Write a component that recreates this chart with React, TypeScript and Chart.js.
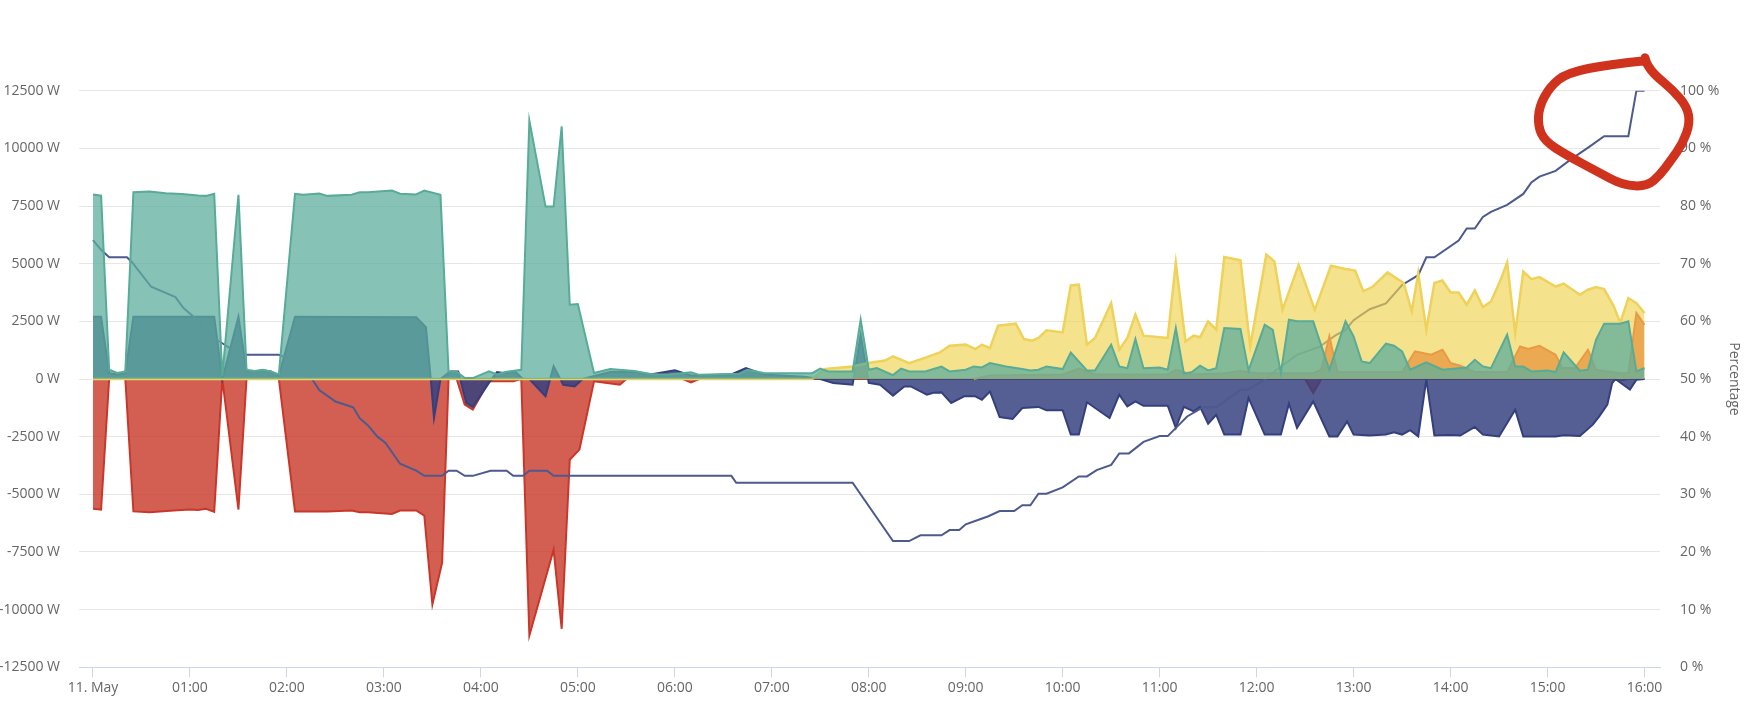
import React, { useEffect, useRef } from "react";
import { Chart, registerables } from "chart.js";

Chart.register(...registerables);

// ---------- data (time in minutes after 11. May 00:00, power in W) ----------
const GREEN_T = [0, 5, 10, 15, 20, 25, 35, 45, 55, 65, 70, 75, 80, 90, 95, 100, 105, 110, 115, 125, 130, 140, 145, 160, 165, 170, 185, 190, 200, 205, 215, 220, 225, 230, 235, 245, 250, 255, 265, 270, 280, 285, 290, 295, 300, 310, 320, 335, 345, 355, 370, 375, 400, 405, 415, 445, 450, 455, 470, 475, 480, 485, 495, 500, 505, 515, 525, 530, 540, 545, 550, 555, 565, 575, 580, 585, 590, 600, 605, 615, 620, 630, 635, 640, 645, 650, 660, 665, 670, 675, 680, 685, 690, 695, 700, 710, 715, 725, 730, 735, 740, 745, 755, 765, 775, 780, 785, 790, 800, 805, 810, 815, 825, 835, 850, 855, 860, 865, 875, 880, 885, 890, 900, 905, 910, 920, 925, 930, 935, 945, 950, 955, 960];
const GREEN_W = [8000, 7950, 400, 260, 330, 8100, 8130, 8050, 8020, 7960, 7940, 8030, 110, 7990, 400, 350, 400, 330, 200, 8030, 7990, 8040, 7940, 7990, 8100, 8100, 8170, 8030, 8000, 8170, 7990, 330, 330, 40, 40, 330, 200, 300, 400, 11200, 7480, 7480, 10950, 3220, 3250, 260, 430, 350, 215, 180, 290, 180, 230, 400, 260, 250, 450, 330, 330, 2570, 400, 475, 170, 450, 330, 330, 540, 330, 400, 545, 500, 690, 545, 430, 370, 400, 545, 430, 1150, 370, 370, 1485, 545, 470, 1730, 470, 500, 400, 2210, 230, 300, 575, 370, 470, 2210, 2170, 375, 2350, 2135, 260, 2570, 2500, 2500, 400, 2500, 1850, 760, 690, 1530, 1440, 1200, 400, 720, 400, 500, 836, 545, 470, 1920, 545, 545, 330, 370, 300, 1155, 360, 400, 1700, 2400, 2400, 2500, 330, 475];

const BLUE_T = [0, 5, 10, 15, 20, 25, 75, 80, 90, 95, 100, 105, 110, 115, 125, 200, 206, 209, 211, 215, 221, 226, 231, 235, 245, 250, 255, 261, 266, 270, 280, 285, 291, 298, 303, 320, 335, 345, 360, 370, 395, 404, 415, 440, 450, 458, 470, 475, 480, 487, 495, 502, 506, 516, 520, 525, 531, 539, 546, 550, 555, 561, 569, 575, 585, 590, 600, 605, 610, 615, 629, 635, 640, 645, 650, 665, 670, 675, 681, 685, 690, 695, 700, 710, 715, 725, 735, 740, 745, 755, 765, 770, 776, 780, 790, 800, 805, 810, 815, 820, 825, 830, 840, 846, 855, 860, 870, 880, 885, 905, 910, 920, 928, 932, 937, 940, 942, 951, 955, 960];
const BLUE_W = [2700, 2700, 250, 200, 250, 2700, 2700, 0, 2700, 350, 330, 380, 330, 150, 2700, 2680, 2250, 0, -1690, 0, 330, 330, -1040, -1210, -170, 300, 250, 330, 0, 0, -750, 550, -250, -320, 0, 300, 300, 200, 380, 150, 200, 475, 200, 100, 0, -170, -250, 1900, -170, -250, -720, -320, -320, -680, -600, -580, -1040, -750, -750, -900, -540, -1650, -1730, -1260, -1210, -1360, -1360, -2410, -2410, -1010, -1690, -680, -1190, -970, -1160, -1160, -2120, -1210, -1400, -1210, -1940, -1550, -2410, -2410, -820, -2410, -2410, -1070, -2120, -970, -2490, -2490, -1840, -2410, -2450, -2410, -2310, -2410, -2220, -2490, 0, -2450, -2430, -2450, -2080, -2410, -2490, -1330, -2490, -2490, -2440, -2470, -1980, -1620, -1110, -175, 0, -460, -30, 0];

const RED_T = [0, 5, 10, 20, 25, 35, 50, 60, 65, 70, 75, 80, 90, 95, 115, 125, 135, 145, 160, 165, 170, 185, 190, 200, 205, 210, 216, 220, 225, 230, 235, 245, 260, 265, 270, 285, 290, 295, 301, 310, 318, 326, 330, 365, 370, 375, 750, 755, 760, 940, 945, 950, 960];
const RED_W = [-5630, -5660, 0, 0, -5740, -5780, -5700, -5660, -5680, -5630, -5760, 0, -5660, 0, 0, -5740, -5740, -5740, -5700, -5780, -5780, -5850, -5700, -5700, -5920, -9780, -7970, 0, 0, -1110, -1330, -100, -100, 0, -11120, -7400, -10830, -3500, -3060, -100, -170, -250, 0, 0, -150, 0, 0, -610, 0, 0, -60, 0, 0];

const YELLOW_T = [0, 445, 453, 470, 480, 490, 495, 505, 516, 524, 530, 540, 546, 550, 555, 560, 571, 576, 581, 585, 590, 600, 605, 610, 615, 620, 630, 635, 640, 645, 650, 665, 670, 676, 681, 685, 690, 695, 700, 710, 716, 726, 731, 736, 746, 756, 766, 775, 781, 786, 792, 801, 811, 816, 820, 825, 830, 835, 840, 845, 850, 855, 860, 865, 871, 875, 880, 885, 890, 895, 905, 910, 920, 925, 930, 935, 941, 945, 950, 955, 960];
const YELLOW_W = [0, 0, 430, 545, 690, 800, 980, 690, 950, 1150, 1440, 1490, 1300, 1490, 1340, 2310, 2400, 1730, 1660, 1780, 2110, 2020, 4060, 4090, 1490, 1780, 3290, 1270, 1780, 2790, 1880, 1780, 5030, 1630, 1880, 1810, 2500, 2140, 5290, 5150, 1410, 5390, 5100, 3000, 4950, 3000, 4910, 4770, 4700, 3800, 4010, 4620, 4160, 2930, 4590, 2140, 4160, 4270, 3750, 3750, 3220, 3840, 3120, 3360, 4300, 5050, 1990, 4660, 4330, 4420, 4010, 4130, 3650, 3870, 3990, 3900, 3150, 2430, 3510, 3290, 2860];

const ORANGE_T = [545, 555, 600, 610, 620, 665, 670, 680, 700, 710, 720, 755, 760, 765, 770, 810, 818, 828, 835, 840, 846, 855, 875, 883, 888, 895, 905, 909, 917, 925, 930, 945, 950, 955, 960];
const ORANGE_W = [0, 150, 200, 450, 200, 200, 400, 200, 250, 350, 250, 250, 400, 1850, 300, 300, 1200, 1050, 1270, 690, 575, 300, 300, 1410, 1300, 1440, 1050, 475, 475, 1270, 400, 250, 260, 2860, 2350];

const PCT_T = [0, 5, 10, 21, 24, 36, 51, 56, 66, 70, 80, 91, 96, 115, 125, 136, 140, 150, 161, 165, 170, 176, 181, 190, 200, 205, 216, 220, 225, 230, 235, 246, 256, 260, 266, 270, 281, 285, 395, 398, 470, 495, 505, 512, 525, 530, 536, 540, 548, 554, 561, 570, 575, 580, 585, 590, 600, 610, 615, 621, 630, 635, 641, 650, 660, 665, 677, 687, 695, 710, 715, 725, 731, 745, 759, 769, 775, 780, 790, 800, 810, 820, 825, 830, 845, 850, 855, 860, 865, 875, 885, 890, 895, 905, 914, 926, 935, 950, 955, 960];
const PCT_V = [74.1, 72.4, 71.1, 71.1, 70.3, 66, 64.2, 62.3, 59.9, 58, 56.2, 54.2, 54.2, 54.2, 53, 49.8, 48.1, 46.1, 45.1, 43.2, 42, 40, 38.9, 35.3, 34.1, 33.2, 33.2, 34.1, 34.1, 33.2, 33.2, 34.1, 34.1, 33.2, 33.2, 34.1, 34.1, 33.2, 33.2, 32.0, 32.0, 21.9, 21.9, 22.9, 22.9, 23.8, 23.8, 24.8, 25.6, 26.2, 27.1, 27.1, 28.1, 28.1, 30.1, 30.1, 31.2, 33.1, 33.1, 34.2, 35.1, 37.1, 37.1, 39.1, 40.1, 40.1, 43.5, 45.1, 45.1, 48.1, 48.2, 49.9, 51.3, 54.2, 55.6, 57.6, 58.5, 60.2, 62.1, 63.1, 66.3, 68.0, 71.1, 71.1, 74.0, 76.1, 76.1, 78.1, 79.0, 80.2, 82.1, 84.1, 85.1, 86.1, 88.0, 90.3, 92.1, 92.1, 100, 100];

// axis ticks
const HOUR_TICKS = [0, 1, 2, 3, 4, 5, 6, 7, 8, 9, 10, 11, 12, 13, 14, 15, 16];
const FIRST_TICK_LABEL = "11. May";

// hand-drawn red annotation loop (hour, percent on the right axis)
const LOOP_H = [16.005, 15.644, 15.2, 15.025, 14.912, 14.902, 14.974, 15.2, 15.51, 15.778, 16.026, 16.16, 16.263, 16.397, 16.469, 16.438, 16.294, 16.108, 16.026, 16.005];
const LOOP_P = [105.2, 104.6, 103.1, 100.7, 97.2, 93.8, 91.2, 88.8, 86.0, 83.6, 83.4, 85.4, 87.7, 90.9, 94.4, 97.2, 100.1, 102.7, 104.5, 105.7];

const pts = (t: number[], v: number[]) => t.map((m, i) => ({ x: m / 60, y: v[i] }));

const loopPlugin = {
  id: "redLoop",
  afterDraw(chart: any) {
    const xs = chart.scales.x;
    const ys = chart.scales.y1;
    const p = LOOP_H.map((h, i) => [xs.getPixelForValue(h), ys.getPixelForValue(LOOP_P[i])]);
    const ctx = chart.ctx;
    ctx.save();
    ctx.strokeStyle = "#cf331e";
    ctx.lineWidth = 9;
    ctx.lineCap = "round";
    ctx.lineJoin = "round";
    ctx.beginPath();
    ctx.moveTo(p[0][0], p[0][1]);
    for (let i = 1; i < p.length - 1; i++) {
      const mx = (p[i][0] + p[i + 1][0]) / 2;
      const my = (p[i][1] + p[i + 1][1]) / 2;
      ctx.quadraticCurveTo(p[i][0], p[i][1], mx, my);
    }
    ctx.lineTo(p[p.length - 1][0], p[p.length - 1][1]);
    ctx.stroke();
    ctx.restore();
  },
};

export default function App() {
  const ref = useRef<HTMLCanvasElement | null>(null);

  useEffect(() => {
    if (!ref.current) return;
    const pad2 = (n: number) => (n < 10 ? "0" + n : "" + n);
    const area = (label: string, t: number[], v: number[], stroke: string, fillCol: string, bw = 2) => ({
      label,
      data: pts(t, v),
      borderColor: stroke,
      backgroundColor: fillCol,
      borderWidth: bw,
      fill: "origin",
      pointRadius: 0,
      tension: 0,
      yAxisID: "y",
    });

    const chart = new Chart(ref.current, {
      type: "line",
      data: {
        datasets: [
          area("Green", GREEN_T, GREEN_W, "#58ab96", "rgba(94,175,158,0.75)"),
          area("Orange", ORANGE_T, ORANGE_W, "#e89a45", "rgba(232,152,62,0.75)"),
          area("Yellow", YELLOW_T, YELLOW_W, "#efd25a", "rgba(240,210,80,0.65)", 2.5),
          {
            label: "Percentage",
            data: pts(PCT_T, PCT_V),
            borderColor: "#4c5a8e",
            backgroundColor: "#4c5a8e",
            borderWidth: 2,
            fill: false,
            pointRadius: 0,
            tension: 0,
            yAxisID: "y1",
          },
          area("Blue", BLUE_T, BLUE_W, "#343f7e", "rgba(52,64,128,0.84)"),
          area("Red", RED_T, RED_W, "#c9372a", "rgba(200,55,40,0.8)"),
        ],
      },
      options: {
        animation: false,
        responsive: true,
        maintainAspectRatio: false,
        layout: { padding: { top: 90.7, left: 0, right: 0, bottom: 0 } },
        plugins: { legend: { display: false }, tooltip: { enabled: false } },
        scales: {
          x: {
            type: "linear",
            min: -14 / 96.97,
            max: 16 + 15.5 / 96.97,
            afterBuildTicks: (s: any) => {
              s.ticks = HOUR_TICKS.map((v) => ({ value: v }));
            },
            afterFit: (s: any) => {
              s.height = 34.7;
            },
            ticks: {
              autoSkip: false,
              maxRotation: 0,
              padding: 2,
              color: "#666666",
              font: { family: "'Open Sans'", size: 14 },
              callback: (v: any) => (v === 0 ? FIRST_TICK_LABEL : pad2(v) + ":00"),
            },
            grid: { drawOnChartArea: false, drawTicks: true, tickLength: 10, color: "#ccd6eb" },
            border: { display: true, color: "#ccd6eb", width: 1 },
          },
          y: {
            position: "left",
            min: -12500,
            max: 12500,
            afterBuildTicks: (s: any) => {
              const t = [];
              for (let v = -12500; v <= 12500; v += 2500) t.push({ value: v });
              s.ticks = t;
            },
            afterFit: (s: any) => {
              s.width = 79;
            },
            ticks: {
              padding: 19,
              color: "#666666",
              font: { family: "'Open Sans'", size: 14 },
              callback: (v: any) => v + " W",
            },
            grid: { color: "#e6e6e6", lineWidth: 1, drawTicks: false },
            border: { display: false },
          },
          y1: {
            position: "right",
            min: 0,
            max: 100,
            afterBuildTicks: (s: any) => {
              const t = [];
              for (let v = 0; v <= 100; v += 10) t.push({ value: v });
              s.ticks = t;
            },
            afterFit: (s: any) => {
              s.width = 87;
            },
            ticks: {
              padding: 20,
              color: "#666666",
              font: { family: "'Open Sans'", size: 14 },
              callback: (v: any) => v + " %",
            },
            grid: { drawOnChartArea: false, drawTicks: false },
            border: { display: false },
            title: {
              display: true,
              text: "Percentage",
              color: "#666666",
              font: { family: "'Open Sans'", size: 14 },
              padding: { top: 5, bottom: 0 },
            },
          },
        },
      },
      plugins: [loopPlugin],
    } as any);

    return () => chart.destroy();
  }, []);

  return (
    <div style={{ position: "fixed", left: 0, top: 0, width: "1747px", height: "702px", background: "#ffffff" }}>
      <canvas ref={ref} />
    </div>
  );
}
